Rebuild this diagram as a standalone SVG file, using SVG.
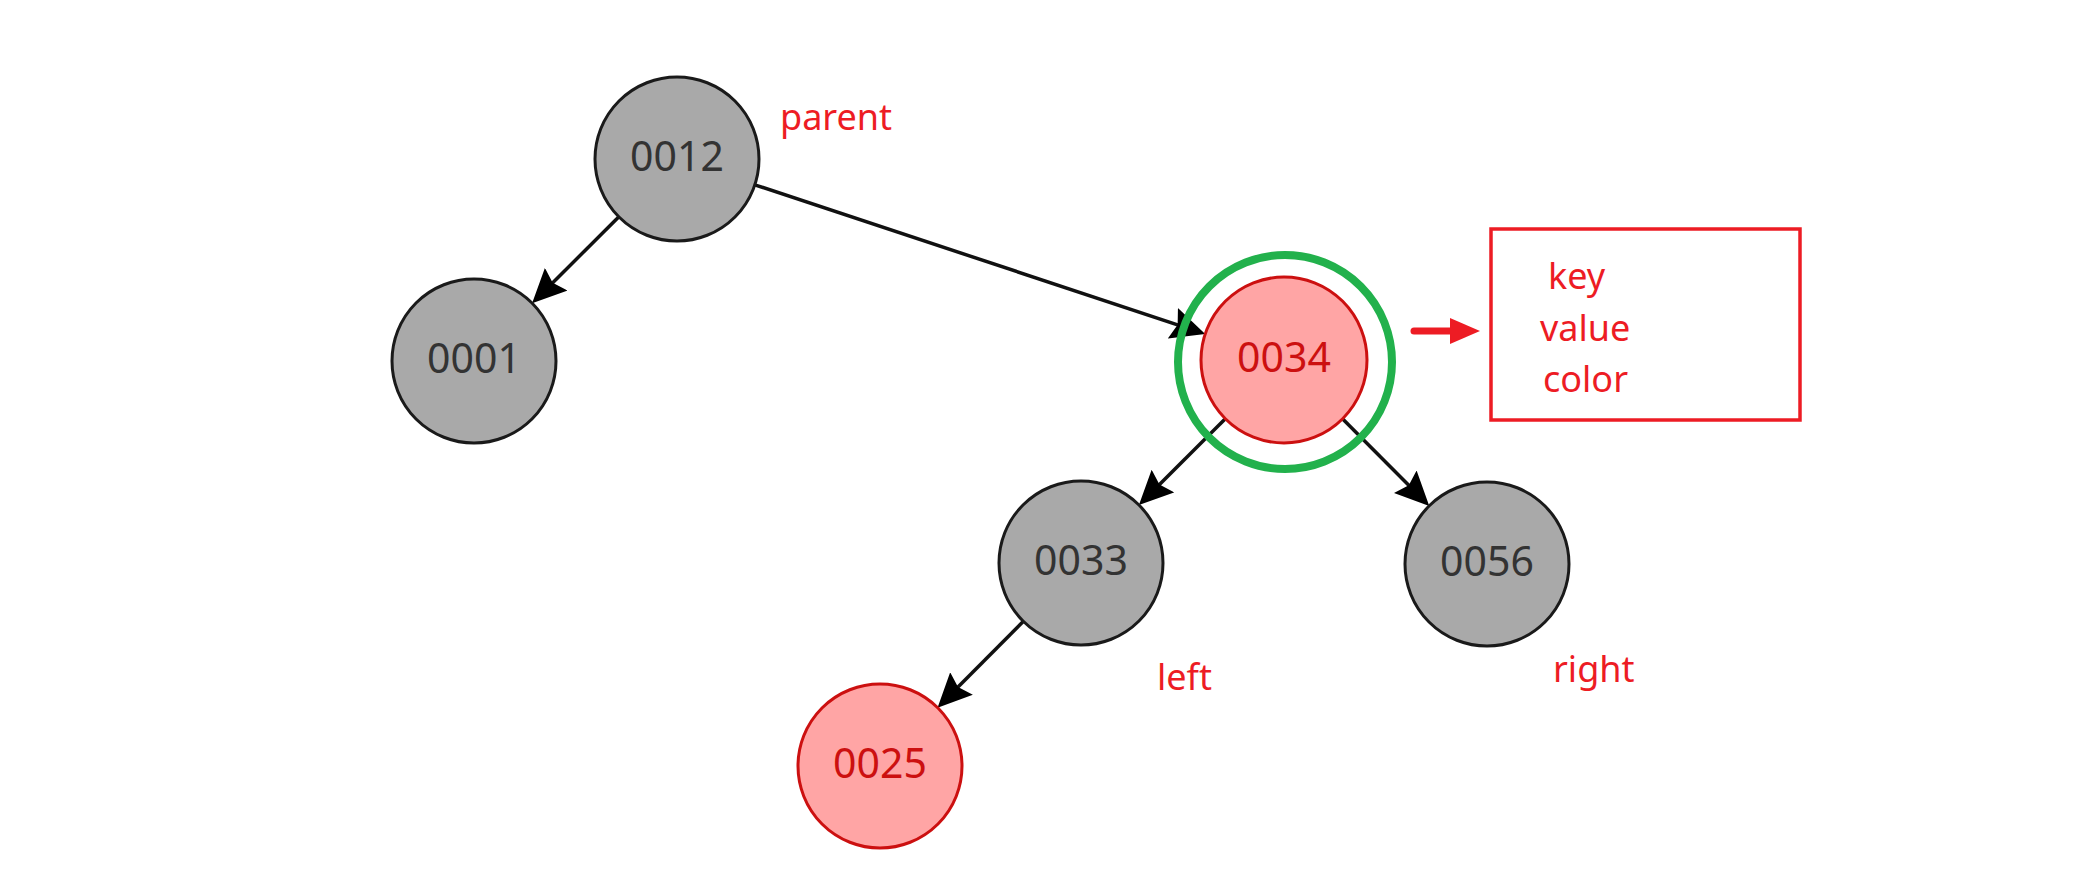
<svg xmlns="http://www.w3.org/2000/svg" width="2080" height="869" viewBox="0 0 2080 869">
<style>
.gray circle{fill:#a9a9a9;stroke:#1a1a1a;stroke-width:3}
.red circle{fill:#ffa5a5;stroke:#cc1010;stroke-width:3}
.gray text{fill:#333;font-family:"Noto Sans","Liberation Sans",sans-serif;font-size:41px;text-anchor:middle}
.red text{fill:#cc1010;font-family:"Noto Sans","Liberation Sans",sans-serif;font-size:41px;text-anchor:middle}
.edge{stroke:#111;stroke-width:3.5;fill:none;marker-end:url(#ah)}
.note{fill:#ed1c24;font-family:"Noto Sans","Liberation Sans",sans-serif;font-size:36px}
</style>
<defs>
<marker id="ah" markerUnits="userSpaceOnUse" viewBox="0 0 34 32" markerWidth="34" markerHeight="32" refX="24" refY="16" orient="auto">
<path d="M0,0 L34,16 L0,32 L5,16 Z" fill="#000"/>
</marker>
</defs>
<rect width="2080" height="869" fill="#fff"/>
<g id="connectors">
<line class="edge" x1="618.9" y1="216.8" x2="539.2" y2="296.2"/>
<line class="edge" x1="754.8" y1="184.8" x2="1195.7" y2="330.8"/>
<line class="edge" x1="1225.3" y1="418.7" x2="1146" y2="498"/>
<line class="edge" x1="1342.5" y1="418.8" x2="1422.2" y2="498.8"/>
<line class="edge" x1="1023.4" y1="621.3" x2="944.6" y2="700.6"/>
</g>
<g id="n0012" class="gray"><circle cx="677" cy="159" r="82"/><text x="677" y="171">0012</text></g>
<g id="n0001" class="gray"><circle cx="474" cy="361" r="82"/><text x="474" y="373">0001</text></g>
<g id="n0034" class="red"><circle cx="1284" cy="360" r="83"/><text x="1284" y="372">0034</text></g>
<g id="n0033" class="gray"><circle cx="1081" cy="563" r="82"/><text x="1081" y="575">0033</text></g>
<g id="n0056" class="gray"><circle cx="1487" cy="564" r="82"/><text x="1487" y="576">0056</text></g>
<g id="n0025" class="red"><circle cx="880" cy="766" r="82"/><text x="880" y="778">0025</text></g>
<g id="highlight"><circle cx="1285" cy="362" r="107" fill="none" stroke="#22b14c" stroke-width="8"/></g>
<g id="pointer">
<line x1="1414" y1="331" x2="1454" y2="331" stroke="#ed1c24" stroke-width="7" stroke-linecap="round"/>
<polygon points="1450,318 1480,331 1450,344" fill="#ed1c24"/>
</g>
<g id="fields">
<rect x="1491" y="229" width="309" height="191" fill="none" stroke="#ed1c24" stroke-width="3.5"/>
<text class="note" x="1548" y="289">key</text>
<text class="note" x="1540" y="341">value</text>
<text class="note" x="1543" y="392">color</text>
</g>
<g id="labels">
<text class="note" x="780" y="130">parent</text>
<text class="note" x="1157" y="690">left</text>
<text class="note" x="1553" y="682">right</text>
</g>
</svg>
